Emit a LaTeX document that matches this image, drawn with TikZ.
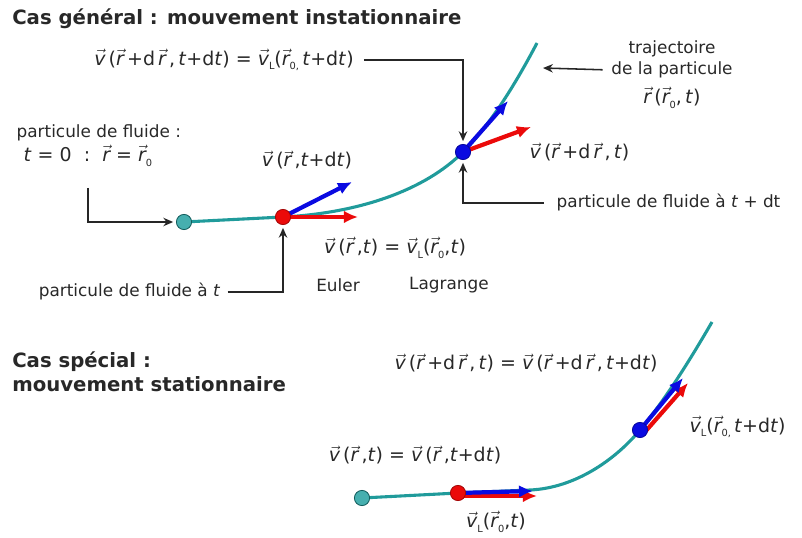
\documentclass[tikz,border=0pt]{standalone}
\usepackage{fontspec}
\setmainfont{DejaVu Sans}
\usepackage{tikz}
\usetikzlibrary{arrows.meta,positioning}
\definecolor{trajcol}{RGB}{32,155,155}
\definecolor{dotcyan}{RGB}{70,175,175}
\definecolor{vred}{RGB}{235,10,10}
\definecolor{vblue}{RGB}{10,10,225}
\definecolor{txt}{RGB}{40,40,40}

\newcommand{\vv}[1]{$\vec{\mbox{\itshape #1}}$}
\newcommand{\ind}[1]{\raisebox{-0.45ex}{\scriptsize #1}}
\newcommand{\ti}{\textit{t}}

\begin{document}
\begin{tikzpicture}[x=0.025cm,y=-0.025cm,
  font=\fontsize{12}{14}\selectfont, text=txt,
  ttl/.style={font=\fontsize{14}{16}\selectfont\bfseries,anchor=west,inner sep=0pt},
  lbl/.style={inner sep=1pt},
  eq/.style={inner sep=1pt,font=\fontsize{13.5}{15}\selectfont},
  traj/.style={draw=trajcol,line width=2.2pt},
  lead/.style={draw=black!85,line width=1.1pt,-{Stealth[length=7pt,width=6pt]}},
  vec/.style={line width=3pt,-{Latex[length=10pt,width=9pt]}},
  dot/.style={circle,inner sep=0pt,minimum size=0.38cm,line width=0.6pt}
]
\useasboundingbox (0,0) rectangle (802,538);

% instationnaire
\node[ttl] (title1) at (12,19) {Cas général : mouvement instationnaire};

\coordinate (c0) at (184,222);
\coordinate (cA) at (283,217);
\coordinate (cB) at (463,152);
\draw[traj] (c0) -- (cA) .. controls (360,213) and (425,190) .. (cB)
  .. controls (490,125) and (515,85) .. (537,43);

\coordinate (tA1) at (358,217);
\coordinate (tA2) at (352,182);
\coordinate (tB1) at (531,127);
\coordinate (tB2) at (508,101);
\draw[vec,vred] (cA) -- (tA1);
\draw[vec,vblue] (cA) -- (tA2);
\draw[vec,vred] (cB) -- (tB1);
\draw[vec,vblue] (cB) -- (tB2);

\node[dot,draw=trajcol!60!black,fill=dotcyan] (p0) at (c0) {};
\node[dot,draw=vred!70!black,fill=vred] (pA) at (cA) {};
\node[dot,draw=vblue!70!black,fill=vblue] (pB) at (cB) {};

\node[eq] (eqtop) at (224,60)
  {\vv{v}\,(\vv{r}\,+d\,\vv{r}\,,\,\ti+d\ti) = \vv{v}\ind{L}(\vv{r}\ind{0,}\,\ti+d\ti)};
\node[lbl] (trajb) at (672,70) {de la particule};
\node[lbl,above=1pt of trajb] (traja) {trajectoire};
\node[eq,below=4pt of trajb] (trajc) {\vv{r}\,(\vv{r}\ind{0},\,\ti)};
\coordinate (trajpt) at (543,68);

\node[lbl,anchor=west] (init1) at (15,133) {particule de fluide :};
\node[eq,anchor=west] (init2) at (22,156) {\ti{} = 0 \ :\ \ \vv{r} = \vv{r}\ind{0}};
\node[eq] (vA2) at (307,160) {\vv{v}\,(\vv{r}\,,\ti+d\ti)};
\node[eq,anchor=west] (vB) at (528,152) {\vv{v}\,(\vv{r}\,+d\,\vv{r}\,,\,\ti)};
\node[lbl,anchor=west] (fluB) at (555,203) {particule de fluide à \ti{} + dt};
\node[eq] (eqA) at (395,248)
  {\vv{v}\,(\vv{r}\,,\ti) = \vv{v}\ind{L}(\vv{r}\ind{0},\ti)};
\node[lbl] (euler) at (338,285) {Euler};
\node[lbl] (lagr) at (449,285) {Lagrange};
\node[lbl,anchor=east] (fluA) at (222,292) {particule de fluide à \ti};

\draw[lead,shorten <=6pt,shorten >=2pt] (eqtop.east) -| (pB.north);
\draw[lead,shorten <=8pt,shorten >=2pt] (fluB.west) -| (pB.south);
\draw[lead,shorten <=4pt,shorten >=2pt] (fluA.east) -| (pA.south);
\draw[lead,shorten <=14pt,shorten >=2pt] (init2.south) |- (p0.west);
\draw[lead,shorten <=5pt] (trajb.west) -- (trajpt);

% stationnaire
\node[ttl] (title2a) at (12,362) {Cas spécial :};
\node[ttl] (title2b) at (12,384) {mouvement stationnaire};

\coordinate (c0s) at (362,498);
\coordinate (cAs) at (458,493);
\coordinate (cBs) at (640,430);
\draw[traj] (c0s) -- (cAs) -- (530,490) .. controls (575,488) and (615,460) .. (cBs)
  .. controls (665,400) and (690,360) .. (712,322);

\coordinate (sA0) at (458,496);
\coordinate (sA1) at (537,496);
\coordinate (sA2) at (533,491);
\coordinate (sB0) at (644,433);
\coordinate (sB1) at (688,383);
\coordinate (sB2) at (683,378);
\draw[vec,vred] (sA0) -- (sA1);
\draw[vec,vblue] (cAs) -- (sA2);
\draw[vec,vred] (sB0) -- (sB1);
\draw[vec,vblue] (cBs) -- (sB2);

\node[dot,draw=trajcol!60!black,fill=dotcyan] (q0) at (c0s) {};
\node[dot,draw=vred!70!black,fill=vred] (qA) at (cAs) {};
\node[dot,draw=vblue!70!black,fill=vblue] (qB) at (cBs) {};

\node[eq] (eqS1) at (526,363)
  {\vv{v}\,(\vv{r}\,+d\,\vv{r}\,,\,\ti) = \vv{v}\,(\vv{r}\,+d\,\vv{r}\,,\,\ti+d\ti)};
\node[eq] (eqS2) at (415,455)
  {\vv{v}\,(\vv{r}\,,\ti) = \vv{v}\,(\vv{r}\,,\ti+d\ti)};
\node[eq] (vLb) at (496,522) {\vv{v}\ind{L}(\vv{r}\ind{0},\ti)};
\node[eq,anchor=west] (vLc) at (688,427) {\vv{v}\ind{L}(\vv{r}\ind{0,}\,\ti+d\ti)};
\end{tikzpicture}
\end{document}
